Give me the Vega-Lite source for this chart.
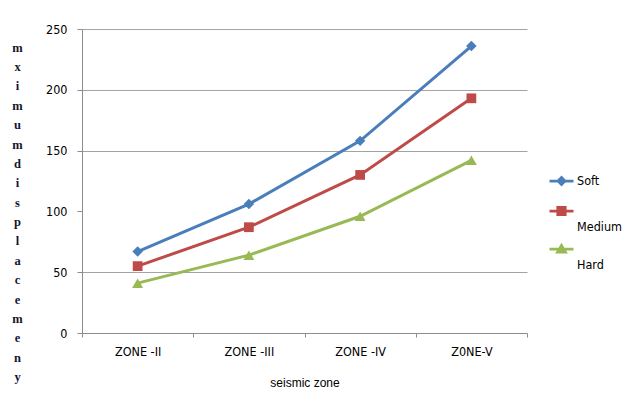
{
  "$schema": "https://vega.github.io/schema/vega-lite/v6.json",
  "autosize": "none",
  "width": 445,
  "height": 304,
  "padding": {"left": 82, "top": 29, "right": 114, "bottom": 74},
  "background": "white",
  "data": {
    "values": [
      {"zone": "ZONE -II", "series": "Soft", "value": 67},
      {"zone": "ZONE -III", "series": "Soft", "value": 106},
      {"zone": "ZONE -IV", "series": "Soft", "value": 158},
      {"zone": "Z0NE-V", "series": "Soft", "value": 236},
      {"zone": "ZONE -II", "series": "Medium", "value": 55},
      {"zone": "ZONE -III", "series": "Medium", "value": 87},
      {"zone": "ZONE -IV", "series": "Medium", "value": 130},
      {"zone": "Z0NE-V", "series": "Medium", "value": 193},
      {"zone": "ZONE -II", "series": "Hard", "value": 41},
      {"zone": "ZONE -III", "series": "Hard", "value": 64},
      {"zone": "ZONE -IV", "series": "Hard", "value": 96},
      {"zone": "Z0NE-V", "series": "Hard", "value": 142}
    ]
  },
  "encoding": {
    "x": {
      "field": "zone",
      "type": "nominal",
      "sort": ["ZONE -II", "ZONE -III", "ZONE -IV", "Z0NE-V"],
      "bandPosition": 0.5,
      "scale": {"type": "band", "paddingInner": 0, "paddingOuter": 0},
      "axis": {
        "title": "seismic  zone",
        "titleFont": "Liberation Sans",
        "titleFontSize": 12,
        "titleFontWeight": "normal",
        "titleColor": "#000000",
        "titleBaseline": "middle",
        "titleY": 49,
        "labelAngle": 0,
        "labelFont": "'DejaVu Sans Condensed', 'Liberation Sans', sans-serif",
        "labelFontSize": 12.5,
        "labelColor": "#000000",
        "labelPadding": 8,
        "tickBand": "extent",
        "tickSize": 4,
        "tickColor": "#8c8c8c",
        "domainColor": "#8c8c8c",
        "grid": false
      }
    },
    "y": {
      "field": "value",
      "type": "quantitative",
      "scale": {"domain": [0, 250], "nice": false},
      "axis": {
        "values": [0, 50, 100, 150, 200, 250],
        "title": ["m", "x", "i", "m", "u", "m", "d", "i", "s", "p", "l", "a", "c", "e", "m", "e", "n", "y"],
        "titleAngle": 0,
        "titleAlign": "center",
        "titleBaseline": "alphabetic",
        "titleX": -65,
        "titleY": 22,
        "titleLineHeight": 19.4,
        "titleFont": "Liberation Serif",
        "titleFontSize": 12.5,
        "titleFontWeight": "bold",
        "titleColor": "#15152e",
        "labelFont": "'DejaVu Sans Condensed', 'Liberation Sans', sans-serif",
        "labelFontSize": 12.5,
        "labelColor": "#000000",
        "labelPadding": 10,
        "tickSize": 5,
        "tickColor": "#8c8c8c",
        "domainColor": "#8c8c8c",
        "grid": true,
        "gridColor": "#a3a3a3",
        "gridWidth": 1,
        "gridOpacity": {"condition": {"test": "datum.value === 100 || datum.value === 0", "value": 0}, "value": 1}
      }
    },
    "color": {
      "field": "series",
      "type": "nominal",
      "scale": {"domain": ["Soft", "Medium", "Hard"], "range": ["#4a7ebb", "#be4b48", "#98b954"]},
      "legend": {
        "orient": "none",
        "legendX": 466,
        "legendY": 137,
        "title": null,
        "padding": 0,
        "symbolSize": 576,
        "clipHeight": 30,
        "rowPadding": 0,
        "labelOffset": 2,
        "labelFont": "'DejaVu Sans Condensed', 'Liberation Sans', sans-serif",
        "labelFontSize": 12.5,
        "labelColor": "#000000",
        "encode": {
          "symbols": {
            "update": {
              "shape": {"signal": "datum.value === 'Soft' ? 'M-1,0H1M0,-0.29L0.29,0L0,0.29L-0.29,0Z' : datum.value === 'Medium' ? 'M-1,0H1M-0.31,-0.31H0.31V0.31H-0.31Z' : 'M-1,0H1M0,-0.3L0.33,0.25H-0.33Z'"},
              "fill": {"scale": "color", "field": "value"},
              "stroke": {"scale": "color", "field": "value"},
              "strokeWidth": {"value": 2.75},
              "opacity": {"value": 1}
            }
          },
          "labels": {
            "update": {
              "dy": {"signal": "datum.value === 'Soft' ? 0 : 16"}
            }
          }
        }
      }
    }
  },
  "layer": [
    {
      "mark": {"type": "line", "strokeWidth": 3},
      "encoding": {}
    },
    {
      "transform": [{"filter": "datum.series === 'Soft'"}],
      "mark": {"type": "point", "shape": "diamond", "filled": true, "opacity": 1, "size": 110},
      "encoding": {}
    },
    {
      "transform": [{"filter": "datum.series === 'Medium'"}],
      "mark": {"type": "point", "shape": "square", "filled": true, "opacity": 1, "size": 95},
      "encoding": {}
    },
    {
      "transform": [{"filter": "datum.series === 'Hard'"}],
      "mark": {"type": "point", "shape": "triangle-up", "filled": true, "opacity": 1, "size": 120},
      "encoding": {}
    }
  ],
  "config": {
    "view": {"stroke": null}
  }
}
